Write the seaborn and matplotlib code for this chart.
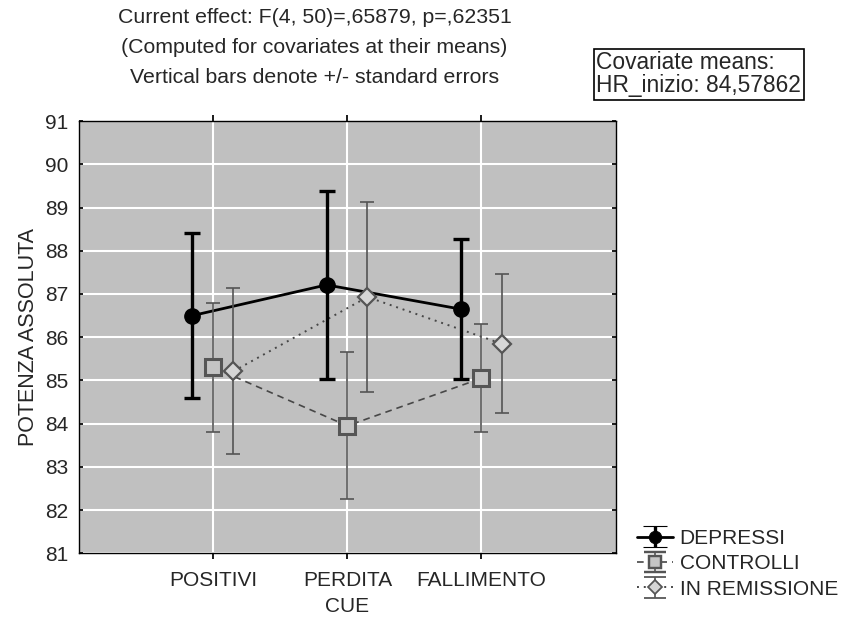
import numpy as np
import pandas as pd
import matplotlib
matplotlib.use("Agg")
import matplotlib.pyplot as plt
import seaborn as sns

# values
cue = ["POSITIVI", "PERDITA", "FALLIMENTO"]
groups = ["DEPRESSI", "CONTROLLI", "IN REMISSIONE"]
depressi_mean = [86.50, 87.21, 86.65]
depressi_se = [1.91, 2.17, 1.62]
controlli_mean = [85.30, 83.95, 85.05]
controlli_se = [1.50, 1.70, 1.25]
remissione_mean = [85.21, 86.93, 85.85]
remissione_se = [1.92, 2.20, 1.61]
y_ticks = list(range(81, 92))

sns.set_theme(style="whitegrid", rc={
    "axes.facecolor": "#c0c0c0",
    "grid.color": "white",
    "grid.linewidth": 1.5,
    "axes.edgecolor": "black",
    "axes.linewidth": 1.0,
})
plt.rcParams["font.family"] = ["Liberation Sans", "DejaVu Sans"]

# long table for seaborn
df = pd.DataFrame({
    "cue": cue * 3,
    "group": np.repeat(groups, 3),
    "mean": depressi_mean + controlli_mean + remissione_mean,
    "se": depressi_se + controlli_se + remissione_se,
})
df["pos"] = df["cue"].map({c: i for i, c in enumerate(cue)})

# styling per group
style = {
    "DEPRESSI": dict(off=-0.155, color="black", ls="-", lw=2.0, marker="o", ms=11,
                     mfc="black", mec="black", mew=1.0, elw=2.4, ecol="black", cap=5.5),
    "CONTROLLI": dict(off=0.0, color="#474747", ls=(0, (4, 3)), lw=1.2, marker="s", ms=11,
                      mfc="#c4c4c4", mec="#555555", mew=2.2, elw=1.2, ecol="#555555", cap=5.0),
    "IN REMISSIONE": dict(off=0.15, color="#474747", ls=(0, (1, 2.5)), lw=1.4, marker="D", ms=9,
                          mfc="#d6d6d6", mec="#555555", mew=1.6, elw=1.2, ecol="#555555", cap=5.0),
}

fig = plt.figure(figsize=(8.41, 6.21), dpi=100)
ax = fig.add_axes([0.094, 0.109, 0.638, 0.696])

handles = []
for g in groups:
    s = style[g]
    d = df[df["group"] == g].copy()
    d["x"] = d["pos"] + s["off"]
    sns.lineplot(data=d, x="x", y="mean", ax=ax, color=s["color"], linestyle=s["ls"],
                 linewidth=s["lw"], legend=False, zorder=3)
    ax.errorbar(d["x"], d["mean"], yerr=d["se"], fmt="none", ecolor=s["ecol"],
                elinewidth=s["elw"], capsize=s["cap"], capthick=s["elw"], zorder=4)
    ax.plot(d["x"], d["mean"], linestyle="none", marker=s["marker"], ms=s["ms"],
            mfc=s["mfc"], mec=s["mec"], mew=s["mew"], zorder=5)
    # legend handle: line + marker + error bar
    h = ax.errorbar([np.nan], [np.nan], yerr=[1], color=s["color"], linestyle=s["ls"],
                    linewidth=s["lw"], marker=s["marker"], ms=s["ms"] * 0.8, mfc=s["mfc"],
                    mec=s["mec"], mew=s["mew"] * 0.8, ecolor=s["ecol"], elinewidth=s["elw"],
                    capsize=s["cap"] * 1.6, capthick=s["elw"])
    handles.append(h)

ax.set_xlim(-1, 3)
ax.set_ylim(81, 91)
ax.set_xticks(range(len(cue)))
ax.set_xticklabels(cue)
ax.set_yticks(y_ticks)
ax.grid(True, axis="both")
for sp in ax.spines.values():
    sp.set_visible(True)
    sp.set_color("black")
ax.tick_params(axis="x", direction="out", length=4, color="black", labelsize=15, pad=9,
               bottom=True, top=True)
ax.tick_params(axis="y", direction="in", length=3, color="black", labelsize=15, pad=8,
               left=True, right=True)
ax.set_xlabel("CUE", fontsize=15, labelpad=5)
ax.set_ylabel("POTENZA ASSOLUTA", fontsize=15.5, labelpad=4)
ax.set_axisbelow(True)

fig.text(0.374, 0.972, "Current effect: F(4, 50)=,65879, p=,62351", ha="center", va="center", fontsize=15.3)
fig.text(0.374, 0.924, "(Computed for covariates at their means)", ha="center", va="center", fontsize=15.3)
fig.text(0.374, 0.876, "Vertical bars denote +/- standard errors", ha="center", va="center", fontsize=15.3)
fig.text(0.709, 0.843, "Covariate means:\nHR_inizio: 84,57862", ha="left", va="bottom", fontsize=16.4,
         linespacing=1.0,
         bbox=dict(boxstyle="square,pad=0.12", facecolor="white", edgecolor="black", linewidth=1.2))

fig.legend(handles, groups, loc="center left", bbox_to_anchor=(0.740, 0.092), frameon=False,
           fontsize=15, handlelength=1.75, handletextpad=0.3, labelspacing=0.3,
           borderpad=0.2)

fig.savefig("out.png", dpi=100, facecolor="white")
